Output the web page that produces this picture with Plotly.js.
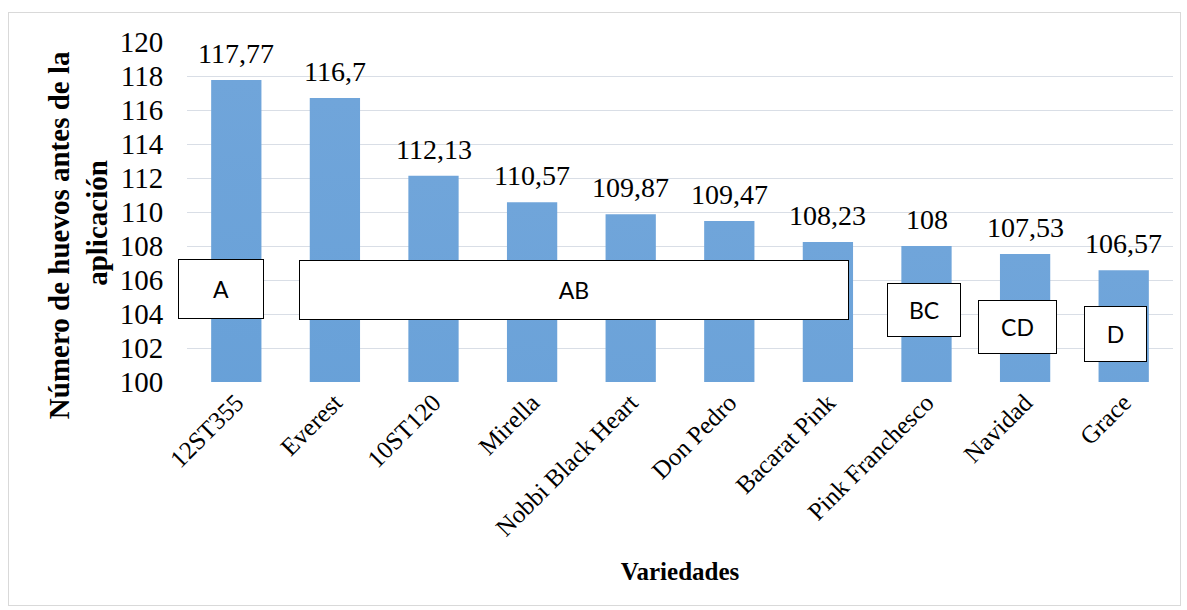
<!DOCTYPE html>
<html>
<head>
<meta charset="utf-8">
<script src="https://cdn.plot.ly/plotly-3.0.1.min.js"></script>
<style>
  html, body { margin: 0; padding: 0; background: #ffffff; }
  #wrap { position: relative; width: 1187px; height: 610px; }
  #chart { position: absolute; left: 0; top: 0; width: 1187px; height: 610px; }
  #frame { position: absolute; left: 8px; top: 12px; width: 1171px; height: 592px;
           border: 1px solid #d9d9d9; pointer-events: none; }
</style>
</head>
<body>
<div id="wrap">
  <div id="chart"></div>
  <div id="frame"></div>
</div>
<script>
// ---- data ----
const categories = ["12ST355", "Everest", "10ST120", "Mirella", "Nobbi Black Heart",
                    "Don Pedro", "Bacarat Pink", "Pink Franchesco", "Navidad", "Grace"];
const values = [117.77, 116.7, 112.13, 110.57, 109.87, 109.47, 108.23, 108, 107.53, 106.57];
const valueLabels = ["117,77", "116,7", "112,13", "110,57", "109,87",
                     "109,47", "108,23", "108", "107,53", "106,57"];
const groupLetters = ["A", "AB", "BC", "CD", "D"];
const yTicks = [100, 102, 104, 106, 108, 110, 112, 114, 116, 118, 120];
const xTitle = "Variedades";
const yTitleLines = ["Número de huevos antes de la", "aplicación"];

const serif = "'Liberation Serif', 'Times New Roman', serif";

const trace = {
  type: "bar",
  x: categories,
  y: values,
  marker: { color: "#5897d4", line: { width: 0 } },
  hoverinfo: "x+y"
};

// value labels above bars
const annotations = categories.map((c, i) => ({
  x: c, y: values[i], xref: "x", yref: "y",
  text: valueLabels[i], showarrow: false,
  yanchor: "bottom", yshift: 9,
  font: { family: serif, size: 28, color: "#000000" }
}));

// significance-group boxes (x in category index units, y in data units)
const boxSpecs = [
  { x: -0.16, y: 105.5, w: 84, h: 58 },
  { x: 3.42, y: 105.4, w: 548, h: 58 },
  { x: 6.97, y: 104.25, w: 72, h: 52 },
  { x: 7.92, y: 103.25, w: 77, h: 52 },
  { x: 8.92, y: 102.82, w: 61, h: 54 }
];
boxSpecs.forEach((b, i) => {
  annotations.push({
    x: b.x, y: b.y, xref: "x", yref: "y",
    text: groupLetters[i], showarrow: false,
    width: b.w, height: b.h, align: "center", valign: "middle",
    bgcolor: "#ffffff", bordercolor: "#000000", borderwidth: 1, borderpad: 0,
    font: { family: "Lato, 'Open Sans', sans-serif", size: 23, color: "#000000" }
  });
});

// y-axis title, two rotated lines placed as in the reference
const yTitlePos = [{ x: -0.1298, y: 0.432 }, { x: -0.0913, y: 0.468 }];
yTitleLines.forEach((t, i) => {
  annotations.push({
    x: yTitlePos[i].x, y: yTitlePos[i].y, xref: "paper", yref: "paper",
    text: "<b>" + t + "</b>", showarrow: false, textangle: -90,
    xanchor: "center", yanchor: "middle", align: "center",
    font: { family: serif, size: 29, color: "#000000" }
  });
});

const layout = {
  width: 1187, height: 610,
  margin: { l: 187, r: 14, t: 42, b: 228, autoexpand: false },
  paper_bgcolor: "#ffffff", plot_bgcolor: "#ffffff",
  showlegend: false,
  bargap: 0.49,
  xaxis: {
    type: "category",
    automargin: false,
    range: [-0.5, 9.5],
    tickangle: -45,
    tickfont: { family: serif, size: 25, color: "#000000" },
    showgrid: false, showline: false, zeroline: false,
    ticks: "", ticklen: 0,
    title: { text: "<b>" + xTitle + "</b>", font: { family: serif, size: 25, color: "#000000" }, standoff: 22 }
  },
  yaxis: {
    automargin: false,
    range: [100, 120],
    tickvals: yTicks,
    ticktext: yTicks.map(String),
    tickfont: { family: serif, size: 29, color: "#000000" },
    showgrid: true, gridcolor: "#d9dee6", gridwidth: 1,
    zeroline: false, showline: false,
    ticks: "outside", ticklen: 17, tickcolor: "rgba(0,0,0,0)"
  },
  annotations: annotations
};

function applyGradient(gd) {
  const svg = gd.querySelector(".main-svg");
  const ns = "http://www.w3.org/2000/svg";
  let defs = svg.querySelector("defs");
  if (!defs) { defs = document.createElementNS(ns, "defs"); svg.insertBefore(defs, svg.firstChild); }
  if (!svg.querySelector("#barGrad")) {
    const lg = document.createElementNS(ns, "linearGradient");
    lg.setAttribute("id", "barGrad");
    lg.setAttribute("gradientUnits", "objectBoundingBox");
    lg.setAttribute("x1", "0"); lg.setAttribute("y1", "0");
    lg.setAttribute("x2", "0"); lg.setAttribute("y2", "1");
    [["0%", "#70a5da"], ["50%", "#5596d3"], ["100%", "#3f84c5"]].forEach(([o, c]) => {
      const s = document.createElementNS(ns, "stop");
      s.setAttribute("offset", o);
      s.setAttribute("stop-color", c);
      lg.appendChild(s);
    });
    defs.appendChild(lg);
  }
  gd.querySelectorAll(".trace.bars .point path").forEach(p => {
    p.setAttribute("fill", "url(#barGrad)");
    p.style.setProperty("fill", "url(#barGrad)", "important");
  });
}

Plotly.newPlot("chart", [trace], layout, { displayModeBar: false, staticPlot: true }).then(gd => {
  applyGradient(gd);
  setTimeout(() => applyGradient(gd), 200);
});
</script>
</body>
</html>
